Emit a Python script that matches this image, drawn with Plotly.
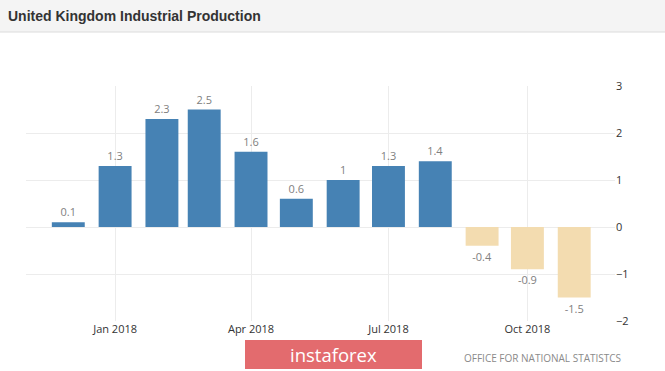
import plotly.graph_objects as go

# ---- data ----
months = ["2017-12-01", "2018-01-01", "2018-02-01", "2018-03-01", "2018-04-01", "2018-05-01",
          "2018-06-01", "2018-07-01", "2018-08-01", "2018-09-01", "2018-10-01", "2018-11-01"]
values = [0.1, 1.3, 2.3, 2.5, 1.6, 0.6, 1.0, 1.3, 1.4, -0.4, -0.9, -1.5]
labels = ["0.1", "1.3", "2.3", "2.5", "1.6", "0.6", "1", "1.3", "1.4", "-0.4", "-0.9", "-1.5"]
tick_dates = ["2018-01-01", "2018-04-01", "2018-07-01", "2018-10-01"]
tick_text = ["Jan 2018", "Apr 2018", "Jul 2018", "Oct 2018"]
y_ticks = [-2, -1, 0, 1, 2, 3]

W, H = 665, 371
L, R, T, B = 26, 50, 86, 50
PW, PH = W - L - R, H - T - B


def px_x(x):
    return (x - L) / PW


def px_y(y):
    return (H - B - y) / PH


colors = ["#4682B4" if v >= 0 else "#F3DCB0" for v in values]

fig = go.Figure()
fig.add_trace(go.Bar(
    x=months, y=values, text=labels, textposition="outside",
    marker=dict(color=colors, line=dict(width=0)),
    width=21.8 * 86400000,
    outsidetextfont=dict(color="#808080", size=11, family="Open Sans"),
    cliponaxis=False, hoverinfo="skip",
))

fig.update_layout(
    width=W, height=H,
    margin=dict(l=L, r=R, t=T, b=B),
    paper_bgcolor="white", plot_bgcolor="white",
    showlegend=False,
    bargap=0.1,
    xaxis=dict(
        type="date", range=["2017-11-03", "2018-11-28"],
        tickvals=tick_dates, ticktext=tick_text,
        showgrid=True, gridcolor="#ececec", gridwidth=1,
        zeroline=False, showline=False, ticks="",
        tickfont=dict(family="Open Sans", size=11, color="#333333"),
    ),
    yaxis=dict(
        side="right", range=[-2, 3], tickvals=y_ticks,
        showgrid=True, gridcolor="#ececec", gridwidth=1,
        zeroline=False, showline=False, ticks="",
        tickfont=dict(family="Open Sans", size=11, color="#333333"),
    ),
    shapes=[
        dict(type="rect", xref="paper", yref="paper",
             x0=px_x(0), x1=px_x(W), y0=px_y(32), y1=px_y(0),
             fillcolor="#f4f4f4", line=dict(width=0), layer="below"),
        dict(type="line", xref="paper", yref="paper",
             x0=px_x(0), x1=px_x(W), y0=px_y(32), y1=px_y(32),
             line=dict(color="#dcdcdc", width=1)),
        dict(type="rect", xref="paper", yref="paper",
             x0=px_x(245), x1=px_x(422), y0=px_y(369), y1=px_y(340),
             fillcolor="#E36B6E", line=dict(width=0), layer="above"),
    ],
    annotations=[
        dict(text="<b>United Kingdom Industrial Production</b>", xref="paper", yref="paper",
             x=px_x(6), y=px_y(16), xanchor="left", yanchor="middle", showarrow=False,
             font=dict(family="Liberation Sans, Arial", size=14, color="#333333")),
        dict(text="instaforex", xref="paper", yref="paper",
             x=px_x(333), y=px_y(354), xanchor="center", yanchor="middle", showarrow=False,
             font=dict(family="Open Sans", size=18.5, color="#ffffff")),
        dict(text="OFFICE FOR NATIONAL STATISTCS", xref="paper", yref="paper",
             x=px_x(623), y=px_y(358), xanchor="right", yanchor="middle", showarrow=False,
             font=dict(family="Open Sans", size=10, color="#8a8a8a")),
    ],
)

fig.write_html("out.html",
               config={"displayModeBar": False},
               post_script="document.body.style.margin='0';document.body.style.padding='0';"
                           "document.body.style.overflow='hidden';")
